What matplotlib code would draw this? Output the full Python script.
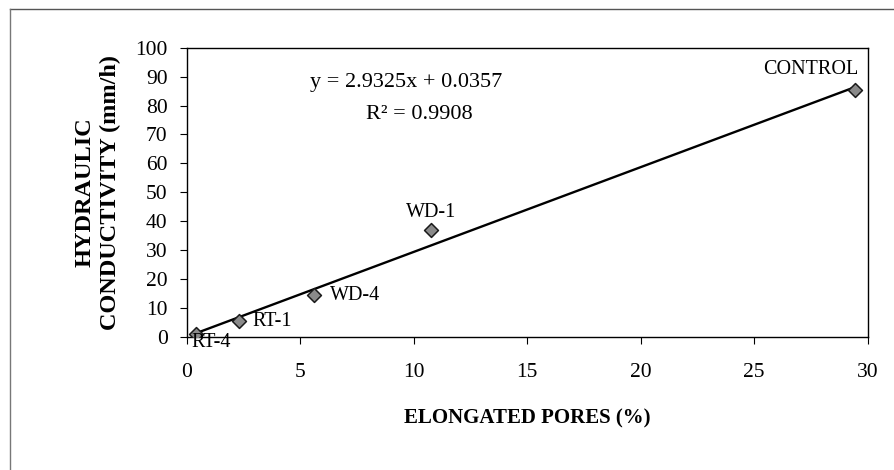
import matplotlib
matplotlib.use("Agg")
import matplotlib.pyplot as plt
from matplotlib.lines import Line2D
import numpy as np

plt.rcParams['font.family'] = ['Liberation Serif', 'DejaVu Serif']

labels = ["RT-4", "RT-1", "WD-4", "WD-1", "CONTROL"]
pores = [0.4, 2.3, 5.6, 10.75, 29.45]
conductivity = [1.0, 5.3, 14.3, 37.0, 85.4]
slope = 2.9325
intercept = 0.0357
r2 = 0.9908
x_ticks = [0, 5, 10, 15, 20, 25, 30]
y_ticks = [0, 10, 20, 30, 40, 50, 60, 70, 80, 90, 100]

fig = plt.figure(figsize=(8.95, 4.70), dpi=100)
ax = fig.add_axes([0.2089, 0.2836, 0.7606, 0.6149])

xs = np.array([min(pores), max(pores)])
ax.plot(xs, slope * xs + intercept, color='black', lw=1.7, zorder=2)
ax.scatter(pores, conductivity, marker='D', s=50, facecolor='#8a8a8a',
           edgecolor='#1a1a1a', linewidths=1.1, zorder=3)

offsets = {"RT-4": (-0.2, -2.9, 'left', 'center'),
           "RT-1": (0.6, 0.1, 'left', 'center'),
           "WD-4": (0.7, 0.1, 'left', 'center'),
           "WD-1": (0.0, 6.1, 'center', 'center'),
           "CONTROL": (-1.95, 7.2, 'center', 'center')}
for lab, x, y in zip(labels, pores, conductivity):
    dx, dy, ha, va = offsets[lab]
    ax.text(x + dx, y + dy, lab, ha=ha, va=va, fontsize=14.5)

ax.text(9.65, 88.1, f"y = {slope:.4f}x + {intercept:.4f}", ha='center', va='center', fontsize=16)
ax.text(10.26, 77.0, f"R² = {r2:.4f}", ha='center', va='center', fontsize=16)

ax.set_xlim(0, 30)
ax.set_ylim(0, 100)
ax.set_xticks(x_ticks)
ax.set_yticks(y_ticks)
ax.tick_params(axis='both', labelsize=15.5, length=5, width=0.8, direction='out')
ax.tick_params(axis='y', pad=9)
ax.tick_params(axis='x', pad=14)
for s in ax.spines.values():
    s.set_linewidth(1.0)

ax.set_xlabel("ELONGATED PORES (%)", fontsize=15, fontweight='bold', labelpad=19)
ax.set_ylabel("HYDRAULIC\nCONDUCTIVITY (mm/h)", fontsize=17.5, fontweight='bold',
              labelpad=10, linespacing=1.3)

fig.add_artist(Line2D([10/895, 1.0], [1 - 9/470, 1 - 9/470], transform=fig.transFigure,
                      color='#555555', lw=1.0))
fig.add_artist(Line2D([10/895, 10/895], [0, 1 - 9/470], transform=fig.transFigure,
                      color='#777777', lw=1.0))

fig.savefig("out.png", dpi=100)
